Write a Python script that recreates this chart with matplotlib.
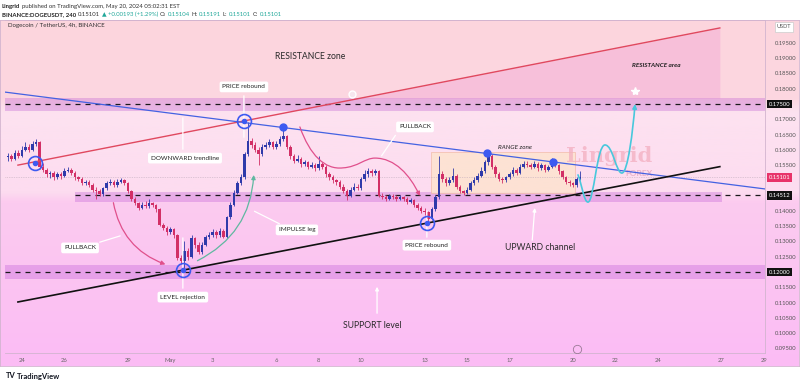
import matplotlib
matplotlib.use("Agg")
import matplotlib.pyplot as plt
import matplotlib.dates as mdates
import matplotlib.transforms as mtrans
from matplotlib.colors import LinearSegmentedColormap
from matplotlib.patches import FancyArrowPatch, Rectangle
from matplotlib.path import Path
import numpy as np
import pandas as pd

plt.rcParams['font.family'] = ['Lato', 'DejaVu Sans']

# ---- data: DOGEUSDT 4h candles ----
start = "2024-04-23 08:00"
first_open = 0.1575
closes = [
    .1580, .1570, .1590, .1580, .1600, .1610, .1600, .1620, .1625, .1545,
    .1535, .1520, .1525, .1512, .1520, .1515, .1530, .1535, .1525, .1510,
    .1505, .1490, .1495, .1485, .1470, .1465, .1455, .1475, .1490, .1495,
    .1485, .1495, .1500, .1490, .1465, .1440, .1425, .1410, .1420, .1415,
    .1425, .1420, .1405, .1355, .1345, .1330, .1340, .1320, .1245, .1235,
    .1270, .1250, .1310, .1290, .1265, .1290, .1315, .1320, .1330, .1320,
    .1335, .1315, .1380, .1420, .1460, .1490, .1510, .1585, .1630, .1615,
    .1600, .1585, .1610, .1615, .1625, .1610, .1620, .1635, .1645, .1610,
    .1580, .1565, .1570, .1555, .1560, .1545, .1550, .1540, .1555, .1545,
    .1520, .1510, .1500, .1495, .1480, .1465, .1450, .1470, .1480, .1475,
    .1505, .1520, .1530, .1525, .1530, .1450, .1445, .1440, .1450, .1445,
    .1440, .1445, .1440, .1430, .1435, .1420, .1410, .1400, .1395, .1375,
    .1405, .1445, .1520, .1505, .1490, .1500, .1515, .1480, .1465, .1460,
    .1470, .1490, .1500, .1515, .1530, .1560, .1580, .1545, .1520, .1505,
    .1500, .1510, .1520, .1535, .1525, .1545, .1555, .1550, .1545, .1555,
    .1540, .1550, .1535, .1545, .1565, .1550, .1530, .1510, .1495, .1490,
    .1485, .1505, .15101]
highs = [
    .1590, .1588, .1598, .1600, .1612, .1625, .1618, .1630, .1635, .1628,
    .1556, .1542, .1532, .1530, .1528, .1526, .1540, .1545, .1540, .1530,
    .1516, .1510, .1502, .1500, .1490, .1478, .1472, .1480, .1498, .1505,
    .1502, .1505, .1508, .1505, .1494, .1470, .1446, .1430, .1428, .1432,
    .1438, .1430, .1424, .1410, .1362, .1350, .1348, .1345, .1324, .1256,
    .1300, .1280, .1320, .1315, .1298, .1298, .1322, .1330, .1342, .1338,
    .1345, .1340, .1385, .1428, .1468, .1498, .1520, .1592, .1690, .1640,
    .1625, .1610, .1620, .1625, .1634, .1630, .1628, .1645, .1680, .1650,
    .1615, .1588, .1582, .1575, .1568, .1565, .1560, .1556, .1580, .1560,
    .1550, .1528, .1518, .1506, .1500, .1488, .1472, .1478, .1490, .1488,
    .1512, .1535, .1540, .1536, .1538, .1534, .1458, .1452, .1456, .1455,
    .1452, .1452, .1450, .1446, .1442, .1440, .1426, .1416, .1408, .1400,
    .1412, .1452, .1580, .1530, .1512, .1510, .1540, .1520, .1486, .1470,
    .1478, .1498, .1510, .1525, .1545, .1568, .1595, .1585, .1550, .1526,
    .1512, .1516, .1528, .1545, .1540, .1555, .1565, .1562, .1558, .1562,
    .1560, .1558, .1555, .1552, .1572, .1570, .1555, .1535, .1515, .1500,
    .1496, .1512, .1530]
lows = [
    .1565, .1562, .1566, .1574, .1576, .1595, .1592, .1596, .1612, .1538,
    .1526, .1512, .1508, .1500, .1506, .1505, .1510, .1526, .1518, .1502,
    .1498, .1484, .1486, .1478, .1462, .1440, .1448, .1450, .1470, .1486,
    .1478, .1480, .1490, .1484, .1460, .1432, .1418, .1404, .1406, .1410,
    .1410, .1412, .1398, .1350, .1336, .1322, .1325, .1312, .1238, .1225,
    .1203, .1240, .1246, .1280, .1258, .1260, .1285, .1308, .1315, .1312,
    .1316, .1310, .1312, .1375, .1415, .1455, .1484, .1505, .1580, .1605,
    .1592, .1550, .1580, .1602, .1608, .1604, .1604, .1612, .1628, .1602,
    .1570, .1556, .1560, .1545, .1548, .1538, .1540, .1532, .1535, .1538,
    .1512, .1502, .1492, .1486, .1472, .1458, .1435, .1445, .1465, .1468,
    .1470, .1498, .1512, .1516, .1518, .1444, .1438, .1432, .1436, .1440,
    .1434, .1436, .1434, .1424, .1426, .1414, .1402, .1394, .1388, .1365,
    .1370, .1400, .1440, .1496, .1482, .1484, .1494, .1472, .1458, .1452,
    .1455, .1465, .1484, .1495, .1510, .1525, .1552, .1538, .1512, .1498,
    .1492, .1494, .1504, .1515, .1518, .1520, .1540, .1544, .1538, .1540,
    .1532, .1535, .1528, .1530, .1540, .1544, .1522, .1504, .1488, .1482,
    .1478, .1480, .1500]

price_ticks = [0.095, 0.100, 0.105, 0.110, 0.115, 0.125, 0.130, 0.135,
               0.140, 0.155, 0.160, 0.165, 0.170, 0.180, 0.185, 0.190, 0.195]
date_days = [0, 2, 5, 7, 9, 12, 14, 16, 19, 21, 23, 26, 28, 30, 33, 35]
date_labels = ["24", "26", "29", "May", "3", "6", "8", "10", "13", "15",
               "17", "20", "22", "24", "27", "29"]

levels = [0.175, 0.14512, 0.12]
last_price = 0.15101

# drawings: (day since Apr 24, price)
red_line = ([-0.19, 32.92], [0.1550, 0.1999])
blue_line = ([-0.80, 35.05], [0.1789, 0.1472])
black_line = ([-0.19, 32.92], [0.1102, 0.1545])
rebound_circles = ([0.61, 7.59, 10.47, 19.10], [0.1557, 0.1207, 0.1694, 0.1360])
touch_dots = ([12.31, 21.93, 25.05], [0.1676, 0.1590, 0.1561])

# ---- figure ----
W, H = 800, 384
fig = plt.figure(figsize=(8, 3.84), dpi=100)
fig.patch.set_facecolor("white")


def box(x0, y0, x1, y1):
    return [x0 / W, 1 - y1 / H, (x1 - x0) / W, (y1 - y0) / H]


base = mdates.date2num(pd.Timestamp("2024-04-24"))


def D(d):
    return base + np.asarray(d, dtype=float)


# background gradient (top of chart -> bottom of date strip)
bg = fig.add_axes(box(0, 20, 799, 366))
cmap = LinearSegmentedColormap.from_list("bg", [
    (0.0, "#fdd5dd"), (0.228, "#fcd7e1"), (0.266, "#fde2f0"),
    (0.497, "#fddcf0"), (0.526, "#fccbef"), (1.0, "#fbbcf5")])
bg.imshow(np.linspace(0, 1, 512)[:, None], aspect="auto", cmap=cmap,
          extent=[0, 1, 0, 1], origin="upper")
bg.set_xticks([])
bg.set_yticks([])
for s in bg.spines.values():
    s.set_color("#d2b4cf")
    s.set_linewidth(0.6)

ax = fig.add_axes(box(5, 20, 765, 353))
ax.patch.set_alpha(0)
ax.set_xlim(D(-0.80), D(35.05))
ax.set_ylim(0.0935, 0.2025)
for s in ax.spines.values():
    s.set_color("#d2b4cf")
    s.set_linewidth(0.6)
ax.spines["left"].set_visible(False)

# pinker wedge under the red trendline, above the 0.175 zone
xs = np.array([15.74, 32.92])
ax.fill_between(D(xs), 0.1770, np.interp(xs, red_line[0], red_line[1]),
                color="#f3a6d4", alpha=0.45, lw=0, zorder=1)

# level bands
ax.axhspan(0.1727, 0.1770, color="#ac3ad0", alpha=0.26, lw=0, zorder=1.5)
ax.fill_between(D([2.5, 33.0]), 0.1429, 0.1462, color="#ac3ad0", alpha=0.26, lw=0, zorder=1.5)
ax.axhspan(0.1177, 0.1223, color="#ac3ad0", alpha=0.26, lw=0, zorder=1.5)

# range zone
ax.add_patch(Rectangle((D(19.29), 0.1459), 26.08 - 19.29, 0.1593 - 0.1459,
                       fc="#fde3cf", ec="#f0b4a0", lw=0.5, alpha=0.85, zorder=1.6))

# watermark
ax.text(D(27.7), 0.1580, "Lingrid", fontsize=15, family="DejaVu Serif", fontweight="bold",
        color="#f3aec0", alpha=0.75, ha="center", va="center", zorder=1.8)
ax.text(D(29.1), 0.1522, "FOREX", fontsize=6, fontweight="bold", color="#e9b0c8",
        ha="center", va="center", zorder=1.8)

# dashed levels
ax.axhline(levels[0], color="#1a1a1a", lw=0.9, ls=(0, (4, 4)), zorder=2)
ax.plot(D([2.5, 35.05]), [levels[1]] * 2, color="#1a1a1a", lw=0.9, ls=(0, (4, 4)), zorder=2)
ax.axhline(levels[2], color="#1a1a1a", lw=0.9, ls=(0, (4, 4)), zorder=2)
ax.axhline(last_price, color="#c0aabb", lw=0.5, ls=(0, (1, 1.5)), zorder=2)

# candles
t = mdates.date2num(pd.date_range(start, periods=len(closes), freq="4h"))
c = np.array(closes)
o = np.array([first_open] + closes[:-1])
up = c >= o
colors = np.where(up, "#2f3aaa", "#d22f66")
ax.vlines(t, lows, highs, colors=colors, lw=0.6, zorder=3)
ax.bar(t, np.maximum(np.abs(c - o), 0.00025), bottom=np.minimum(o, c), width=0.12,
       color=colors, lw=0, zorder=3.1)

# trend lines
ax.plot(D(red_line[0]), red_line[1], color="#e0485f", lw=1.0, zorder=4)
ax.plot(D(blue_line[0]), blue_line[1], color="#4462e2", lw=0.9, zorder=4)
ax.plot(D(black_line[0]), black_line[1], color="#111111", lw=1.2, zorder=4)


def connector(x0, y0, x1, y1, arrow=False):
    ax.add_patch(FancyArrowPatch((D(x0), y0), (D(x1), y1), arrowstyle="-|>" if arrow else "-",
                                 mutation_scale=5, color="white", lw=0.9, zorder=5))


connector(10.47, 0.1786, 10.47, 0.1632)
connector(7.59, 0.1593, 7.59, 0.1714)
connector(17.69, 0.1655, 16.89, 0.1573)
connector(3.54, 0.1295, 4.76, 0.1321)
connector(12.26, 0.1354, 10.85, 0.1403)
connector(7.59, 0.1321, 7.59, 0.1138)
connector(19.10, 0.1410, 19.10, 0.1305)
connector(24.06, 0.1295, 24.20, 0.1419, arrow=True)
connector(16.75, 0.1056, 16.75, 0.1161, arrow=True)

# curved arrows
ax.add_patch(FancyArrowPatch((D(4.29), 0.1436), (D(6.89), 0.1222), connectionstyle="arc3,rad=0.3",
                             arrowstyle="-|>", mutation_scale=6, color="#e0508c", lw=0.9, zorder=5))
ax.add_patch(FancyArrowPatch((D(8.16), 0.1233), (D(10.94), 0.1527), connectionstyle="arc3,rad=0.3",
                             arrowstyle="-|>", mutation_scale=6, color="#5fb8a0", lw=0.9, zorder=5))


def bezier(pts, color, lw):
    codes = [Path.MOVETO] + [Path.CURVE4] * (len(pts) - 1)
    verts = [(D(x), y) for x, y in pts]
    ax.add_patch(FancyArrowPatch(path=Path(verts, codes), arrowstyle="-|>", mutation_scale=6,
                                 color=color, lw=lw, transform=ax.transData, zorder=5))


bezier([(13.11, 0.1675), (13.58, 0.1583), (14.29, 0.1534), (15.14, 0.1541),
        (15.85, 0.1544), (16.18, 0.1573), (16.65, 0.1573),
        (17.59, 0.1573), (18.30, 0.1518), (18.77, 0.1449)], "#e0508c", 0.9)
bezier([(26.23, 0.1518), (26.42, 0.1485), (26.51, 0.1429), (26.70, 0.1429),
        (26.98, 0.1429), (27.12, 0.1616), (27.50, 0.1616),
        (27.88, 0.1616), (28.02, 0.1524), (28.30, 0.1524),
        (28.58, 0.1524), (28.82, 0.1665), (28.92, 0.1750)], "#48c8dc", 1.2)

# circles and dots
ax.plot(D(rebound_circles[0]), rebound_circles[1], "o", ms=10, mfc="none", mec="#3d5af1",
        mew=1.2, zorder=6)
ax.plot(D(rebound_circles[0]), rebound_circles[1], "o", ms=3, color="#3d5af1", zorder=6)
ax.plot(D(touch_dots[0]), touch_dots[1], "o", ms=5, color="#3d5af1", zorder=6)
ax.plot(D(15.57), 0.1783, "o", ms=5, mfc="#f6e6ee", mec="white", zorder=6)
ax.plot(D(28.92), 0.1792, "*", ms=6, color="white", zorder=6)
ax.plot(D(26.18), 0.0948, "o", ms=6, mfc="none", mec="#9a7a96", mew=0.6, zorder=6)

# labels
lbl = dict(boxstyle="round,pad=0.45,rounding_size=0.3", fc="white", ec="none")
boxed = [("PRICE rebound", 10.47, 0.1806), ("DOWNWARD trendline", 7.69, 0.1573),
         ("PULLBACK", 18.54, 0.1675), ("IMPULSE leg", 12.97, 0.1338),
         ("PULLBACK", 2.74, 0.1279), ("PRICE rebound", 19.10, 0.1288),
         ("LEVEL rejection", 7.59, 0.1118)]
for s, x, y in boxed:
    ax.text(D(x), y, s, fontsize=4.6, color="#222", ha="center", va="center", bbox=lbl, zorder=7)

for s, x, y in [("RESISTANCE zone", 13.58, 0.1904), ("UPWARD channel", 24.43, 0.1279),
                ("SUPPORT level", 16.51, 0.1026)]:
    ax.text(D(x), y, s, fontsize=6.2, color="#2a2a2a", ha="center", va="center", zorder=7)
ax.text(D(23.25), 0.1609, "RANGE zone", fontsize=4.6, style="italic", color="#222",
        ha="center", va="center", zorder=7)
ax.text(D(29.9), 0.1875, "RESISTANCE area", fontsize=4.6, style="italic", fontweight="bold",
        color="#222", ha="center", va="center", zorder=7)

# axes ticks
ax.yaxis.tick_right()
ax.set_yticks(price_ticks)
ax.set_yticklabels(["%.5f" % p for p in price_ticks])
ax.tick_params(axis="y", length=0, pad=7, labelsize=4.2, labelcolor="#555")
ax.set_xticks(D(date_days))
ax.set_xticklabels(date_labels)
ax.tick_params(axis="x", length=0, pad=3.5, labelsize=4.2, labelcolor="#666")

tr = mtrans.blended_transform_factory(ax.transAxes, ax.transData)
for lv, col in [(0.175, "#111"), (0.14512, "#111"), (0.12, "#111"), (last_price, "#e8336a")]:
    ax.text(1.0 + 4 / 760, lv, "%.5f" % lv, transform=tr, fontsize=4.2, color="white",
            ha="left", va="center", bbox=dict(boxstyle="square,pad=0.3", fc=col, ec="none"),
            zorder=8, clip_on=False)

fig.text(784 / W, 1 - 27 / H, "USDT", fontsize=4, color="#555", ha="center", va="center",
         bbox=dict(boxstyle="square,pad=0.4", fc="white", ec="#cccccc", lw=0.5))

# header / footer
fig.text(8 / W, 1 - 26 / H, "Dogecoin / TetherUS, 4h, BINANCE", fontsize=4.4, color="#333",
         ha="left", va="center")


def chain(pieces, x, y):
    prev = None
    for s, col, wt in pieces:
        if prev is None:
            prev = fig.text(x / W, 1 - y / H, s, fontsize=4.3, color=col, fontweight=wt,
                            ha="left", va="bottom")
        else:
            prev = bg.annotate(s, xy=(1, 0), xycoords=prev, xytext=(1.2, 0),
                               textcoords="offset points", fontsize=4.3, color=col,
                               fontweight=wt, ha="left", va="bottom", annotation_clip=False)


chain([("Lingrid", "#222", "bold"), ("published on TradingView.com, May 20, 2024 05:02:31 EST", "#333", "normal")],
      2, 9)
teal = "#22a89a"
chain([("BINANCE:DOGEUSDT, 240", "#222", "bold"), ("0.15101", "#333", "normal"),
       ("\u25b2 +0.00193 (+1.29%)", teal, "normal"),
       ("O:", "#333", "normal"), ("0.15104", teal, "normal"),
       ("H:", "#333", "normal"), ("0.15191", teal, "normal"),
       ("L:", "#333", "normal"), ("0.15101", teal, "normal"),
       ("C:", "#333", "normal"), ("0.15101", teal, "normal")], 2, 17)

fig.text(6 / W, 1 - 376 / H, "TV", fontsize=5.5, fontweight="bold", color="#131722",
         ha="left", va="center")
fig.text(17 / W, 1 - 376 / H, "TradingView", fontsize=5.5, fontweight="bold", color="#131722",
         ha="left", va="center")

fig.savefig("out.png", dpi=100)
